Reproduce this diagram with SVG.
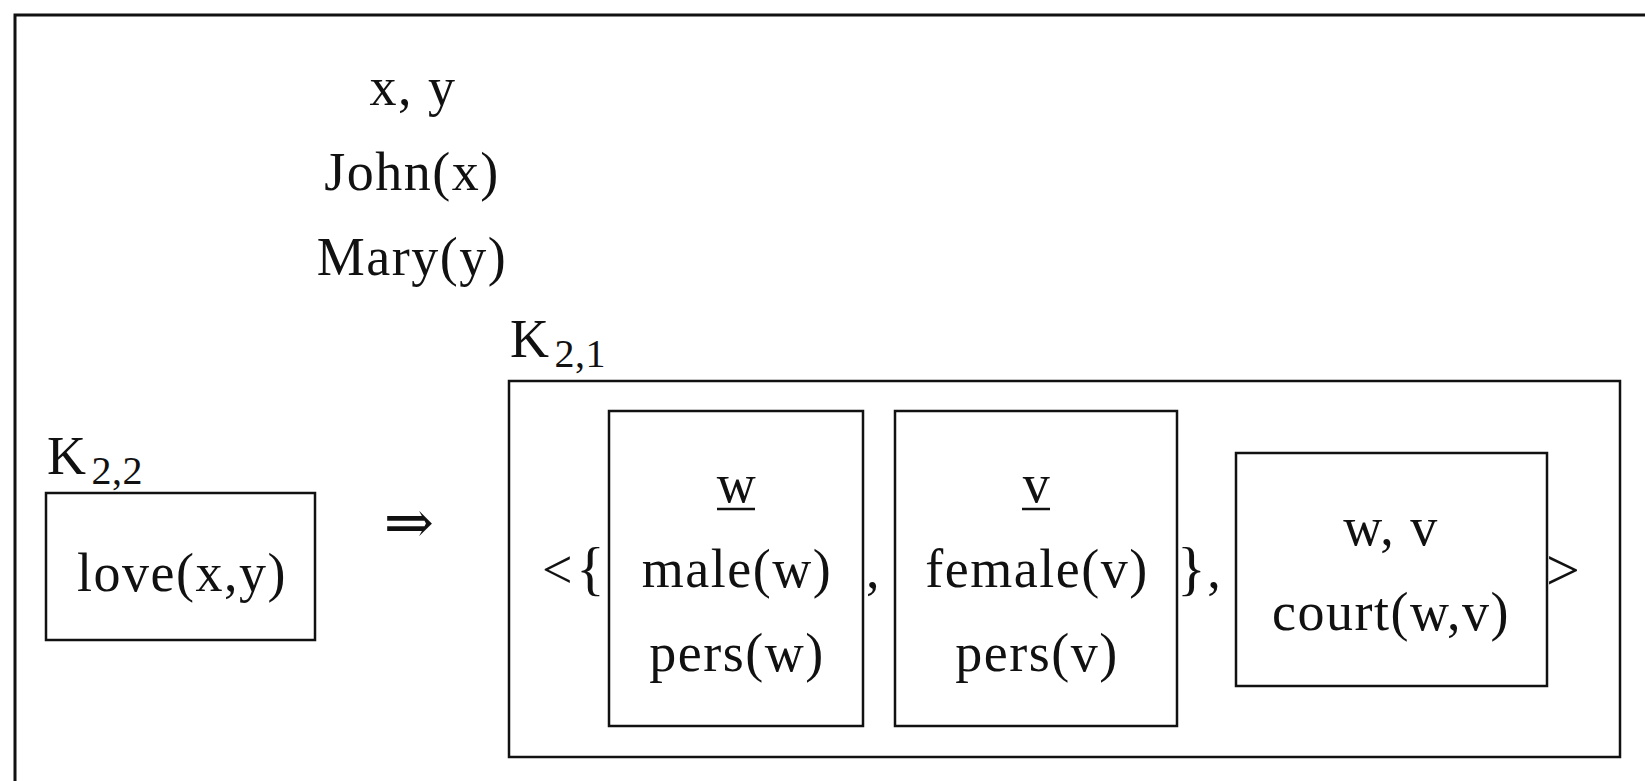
<svg xmlns="http://www.w3.org/2000/svg" width="1645" height="781" viewBox="0 0 1645 781">
<style>
  .t { font-family: "Liberation Serif", "DejaVu Serif", serif; font-size: 54px; letter-spacing: 1.5px; fill: #111; }
  .c { text-anchor: middle; }
  .sub { font-size: 40px; letter-spacing: 0.5px; }
  .big { font-size: 60px; }
  .box { fill: none; stroke: #111; stroke-width: 2.5; }
  .frame { fill: none; stroke: #111; stroke-width: 3; }
  .arrow { font-family: "DejaVu Serif", serif; font-size: 60px; fill: #111; }
</style>
<rect width="1645" height="781" fill="#fff"/>
<g id="frame">
  <path class="frame" d="M15,781 L15,15 L1645,15"/>
</g>
<g id="universe">
  <text class="t c" x="413" y="105">x, y</text>
  <text class="t c" x="412" y="190">John(x)</text>
  <text class="t c" x="412" y="275">Mary(y)</text>
</g>
<g id="K22">
  <text class="t" x="47" y="474">K<tspan class="sub" dx="4" dy="10">2,2</tspan></text>
  <rect class="box" x="46" y="493" width="269" height="147"/>
  <text class="t c" x="182" y="591">love(x,y)</text>
</g>
<g id="implies">
  <text class="arrow c" x="409" y="543">⇒</text>
</g>
<g id="K21">
  <text class="t" x="510" y="357">K<tspan class="sub" dx="4" dy="10">2,1</tspan></text>
  <rect class="box" x="509" y="381" width="1111" height="376"/>
  <text class="t" x="542" y="588">&lt;<tspan class="big" dx="2">{</tspan></text>
  <text class="t" x="866" y="588">,</text>
  <text class="t" x="1177" y="588"><tspan class="big">}</tspan>,</text>
  <text class="t big" x="1546" y="590">&gt;</text>
</g>
<g id="boxW">
  <rect class="box" x="609" y="411" width="254" height="315"/>
  <text class="t c" x="737" y="502">w</text>
  <line x1="717" y1="509" x2="755" y2="509" stroke="#111" stroke-width="2.5"/>
  <text class="t c" x="737" y="587">male(w)</text>
  <text class="t c" x="737" y="671">pers(w)</text>
</g>
<g id="boxV">
  <rect class="box" x="895" y="411" width="282" height="315"/>
  <text class="t c" x="1037" y="502">v</text>
  <line x1="1022" y1="509" x2="1050" y2="509" stroke="#111" stroke-width="2.5"/>
  <text class="t c" x="1037" y="587">female(v)</text>
  <text class="t c" x="1037" y="671">pers(v)</text>
</g>
<g id="boxWV">
  <rect class="box" x="1236" y="453" width="311" height="233"/>
  <text class="t c" x="1391" y="545">w, v</text>
  <text class="t c" x="1391" y="630">court(w,v)</text>
</g>
<g id="connectors"/>
</svg>
